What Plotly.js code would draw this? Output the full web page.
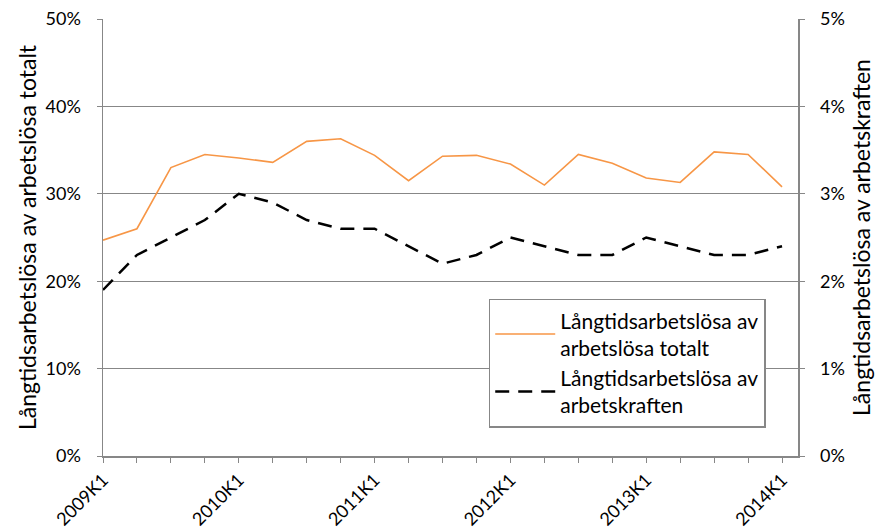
<!DOCTYPE html>
<html>
<head>
<meta charset="utf-8">
<script src="https://cdn.plot.ly/plotly-3.0.1.min.js"></script>
<style>
  html, body { margin: 0; padding: 0; background: #fff; }
  #chart { width: 886px; height: 531px; }
</style>
</head>
<body>
<div id="chart"></div>
<script>
// Quarters 2009K1 .. 2014K1
const quarters = [
  '2009K1', '2009K2', '2009K3', '2009K4',
  '2010K1', '2010K2', '2010K3', '2010K4',
  '2011K1', '2011K2', '2011K3', '2011K4',
  '2012K1', '2012K2', '2012K3', '2012K4',
  '2013K1', '2013K2', '2013K3', '2013K4',
  '2014K1'
];

// Share of unemployed that are long-term unemployed (left axis, %)
const avArbetslosa = [
  24.7, 26.0, 33.0, 34.5, 34.1, 33.6, 36.0, 36.3, 34.4, 31.5, 34.3,
  34.4, 33.4, 31.0, 34.5, 33.5, 31.8, 31.3, 34.8, 34.5, 30.8
];

// Long-term unemployed as share of labour force (right axis, %)
const avArbetskraften = [
  1.9, 2.3, 2.5, 2.7, 3.0, 2.9, 2.7, 2.6, 2.6, 2.4, 2.2,
  2.3, 2.5, 2.4, 2.3, 2.3, 2.5, 2.4, 2.3, 2.3, 2.4
];

const leftTicks = [0, 10, 20, 30, 40, 50];
const leftLabels = ['0%', '10%', '20%', '30%', '40%', '50%'];
const rightTicks = [0, 1, 2, 3, 4, 5];
const rightLabels = ['0%', '1%', '2%', '3%', '4%', '5%'];

// only the yearly quarters get a label
const tickText = quarters.map(q => q.endsWith('K1') ? q : '');

const font = 'Lato, "Open Sans", sans-serif';
const grey = '#878787';

const traces = [
  {
    x: quarters,
    y: avArbetslosa,
    type: 'scatter',
    mode: 'lines',
    name: 'Långtidsarbetslösa av<br>arbetslösa totalt',
    line: { color: '#F79646', width: 1.6 },
    yaxis: 'y'
  },
  {
    x: quarters,
    y: avArbetskraften,
    type: 'scatter',
    mode: 'lines',
    name: 'Långtidsarbetslösa av<br>arbetskraften',
    line: { color: '#000000', width: 2.5, dash: '14px,9px' },
    yaxis: 'y2'
  }
];

const layout = {
  width: 886,
  height: 531,
  margin: { l: 103, r: 88, t: 19, b: 75 },
  paper_bgcolor: '#ffffff',
  plot_bgcolor: '#ffffff',
  font: { family: font, color: '#000', size: 17 },
  showlegend: true,
  legend: {
    x: 0.555, y: 0.36,
    xanchor: 'left', yanchor: 'top',
    bgcolor: '#ffffff',
    bordercolor: grey,
    borderwidth: 1.5,
    itemwidth: 60,
    font: { family: font, size: 21, color: '#000' },
    tracegroupgap: 14
  },
  xaxis: {
    type: 'category',
    range: [0, 20.47],
    tickmode: 'array',
    tickvals: quarters,
    ticktext: tickText,
    tickangle: -45,
    ticks: 'outside',
    ticklen: 5,
    tickcolor: grey,
    showline: true,
    linecolor: grey,
    linewidth: 1.5,
    showgrid: false,
    zeroline: false,
    tickfont: { family: font, size: 18, color: '#000' }
  },
  yaxis: {
    range: [0, 50],
    tickmode: 'array',
    tickvals: leftTicks,
    ticktext: leftLabels,
    ticks: 'outside',
    ticklen: 5,
    tickcolor: grey,
    ticklabelstandoff: 12,
    showline: true,
    linecolor: grey,
    linewidth: 1.5,
    showgrid: true,
    gridcolor: grey,
    gridwidth: 1.3,
    zeroline: false,
    tickfont: { family: font, size: 18, color: '#000' },
    title: {
      text: 'Långtidsarbetslösa av arbetslösa totalt',
      font: { family: font, size: 23, color: '#000' },
      standoff: 2
    }
  },
  yaxis2: {
    overlaying: 'y',
    side: 'right',
    range: [0, 5],
    tickmode: 'array',
    tickvals: rightTicks,
    ticktext: rightLabels,
    ticks: 'outside',
    ticklen: 5,
    tickcolor: grey,
    ticklabelstandoff: 12,
    showline: true,
    linecolor: grey,
    linewidth: 1.5,
    showgrid: false,
    zeroline: false,
    tickfont: { family: font, size: 18, color: '#000' },
    title: {
      text: 'Långtidsarbetslösa av arbetskraften',
      font: { family: font, size: 23, color: '#000' },
      standoff: 10
    }
  }
};

Plotly.newPlot('chart', traces, layout, { displayModeBar: false, staticPlot: true });
</script>
</body>
</html>
